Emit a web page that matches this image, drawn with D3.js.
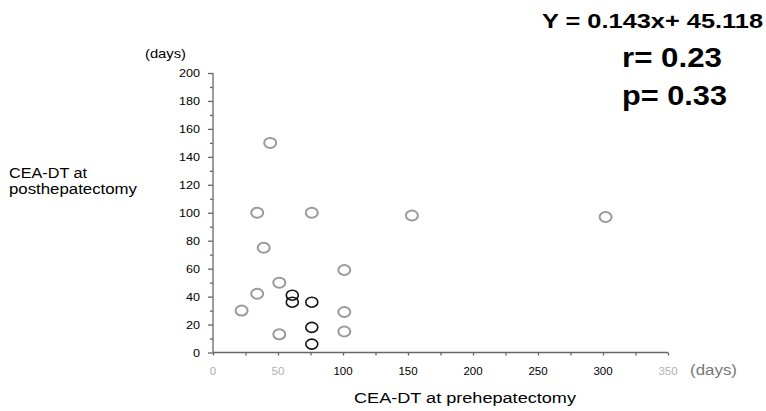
<!DOCTYPE html>
<html>
<head>
<meta charset="utf-8">
<script src="https://cdn.jsdelivr.net/npm/d3@7"></script>
<style>
  body { margin: 0; background: #fff; }
  svg { display: block; font-family: "Liberation Sans", Arial, sans-serif; }
</style>
</head>
<body>
<svg id="chart"></svg>
<script>
"use strict"

const WIDTH = 766;
const HEIGHT = 411;

// pre (x) and post (y) hepatectomy CEA doubling times, days
const GRAY_PRE  = [44, 34, 76, 153, 302, 39, 101, 51, 34, 22, 101, 51, 101];
const GRAY_POST = [150, 100, 100, 98, 97, 75, 59, 50, 42, 30, 29, 13, 15];
const BLACK_PRE  = [61, 61, 76, 76, 76];
const BLACK_POST = [41, 36, 36, 18, 6];

const X_TICKS = [0, 50, 100, 150, 200, 250, 300, 350];
const X_FADED = [0, 50, 350];
const Y_TICKS = [0, 20, 40, 60, 80, 100, 120, 140, 160, 180, 200];

const svg = d3.select("#chart").attr("width", WIDTH).attr("height", HEIGHT);

const x = d3.scaleLinear([0, 350], [213, 668]);
const y = d3.scaleLinear([0, 200], [352.5, 73]);

// the scan's lettering is a bit wider than Liberation Sans, so stretch it
function label(px, py, str, size, width, opts = {}) {
    const t = svg.append("text")
        .attr("x", px).attr("y", py)
        .attr("font-size", size)
        .attr("text-anchor", opts.anchor || "start")
        .attr("fill", opts.fill || "#000")
        .attr("font-weight", opts.bold ? "bold" : null)
        .text(str);
    if (width) t.attr("textLength", width).attr("lengthAdjust", "spacingAndGlyphs");
    return t;
}

// y axis
const yAxis = svg.append("g").attr("transform", `translate(${x(0)},0)`);
yAxis.call(d3.axisLeft(y).tickValues(d3.range(0, 201, 10)).tickSize(4).tickFormat(""));
yAxis.selectAll(".tick line").attr("x2", d => d % 20 === 0 ? -5 : -3);
yAxis.call(g => g.select(".domain").attr("d", `M0,${y(200)}V${y(0)}`));
yAxis.selectAll("path, line").attr("stroke", "#666").attr("stroke-width", 1.3);

svg.append("g").selectAll("text").data(Y_TICKS).join("text")
    .attr("x", 200).attr("y", d => y(d) + 4)
    .attr("text-anchor", "end").attr("font-size", 11.5)
    .attr("textLength", d => String(d).length * 7).attr("lengthAdjust", "spacingAndGlyphs")
    .text(d => d);

// x axis
const xAxis = svg.append("g").attr("transform", `translate(0,${y(0)})`);
xAxis.call(d3.axisBottom(x).tickValues(d3.range(0, 351, 25)).tickSize(3).tickFormat(""));
xAxis.call(g => g.select(".domain").attr("d", `M${x(0)},0H${x(350)}`));
xAxis.selectAll("path, line").attr("stroke", "#666").attr("stroke-width", 1.3);

svg.append("g").selectAll("text").data(X_TICKS).join("text")
    .attr("x", d => x(d)).attr("y", 375)
    .attr("text-anchor", "middle").attr("font-size", 11.5)
    .attr("fill", d => X_FADED.includes(d) ? "#b0b0b0" : "#000")
    .text(d => d);

// units and titles
label(690, 375, "(days)", 14, 47, { fill: "#777" });
label(145, 58, "(days)", 13, 41);
label(465, 403, "CEA-DT at prehepatectomy", 14, 222, { anchor: "middle" });
label(9, 178, "CEA-DT at", 14, 78);
label(9, 194, "posthepatectomy", 14, 128);

// regression stats
label(763, 28, "Y = 0.143x+ 45.118", 21, 221, { anchor: "end", bold: true });
label(622, 67, "r= 0.23", 28, 100, { bold: true });
label(622, 105, "p= 0.33", 28, 105, { bold: true });

// points
const gray = d3.zip(GRAY_PRE, GRAY_POST);
const black = d3.zip(BLACK_PRE, BLACK_POST);

svg.append("g").selectAll("ellipse").data(gray).join("ellipse")
    .attr("cx", d => x(d[0])).attr("cy", d => y(d[1]))
    .attr("rx", 6).attr("ry", 5)
    .attr("fill", "none").attr("stroke", "#9a9a9a").attr("stroke-width", 2);

svg.append("g").selectAll("ellipse").data(black).join("ellipse")
    .attr("cx", d => x(d[0])).attr("cy", d => y(d[1]))
    .attr("rx", 6).attr("ry", 5)
    .attr("fill", "none").attr("stroke", "#111").attr("stroke-width", 1.6);
</script>
</body>
</html>
